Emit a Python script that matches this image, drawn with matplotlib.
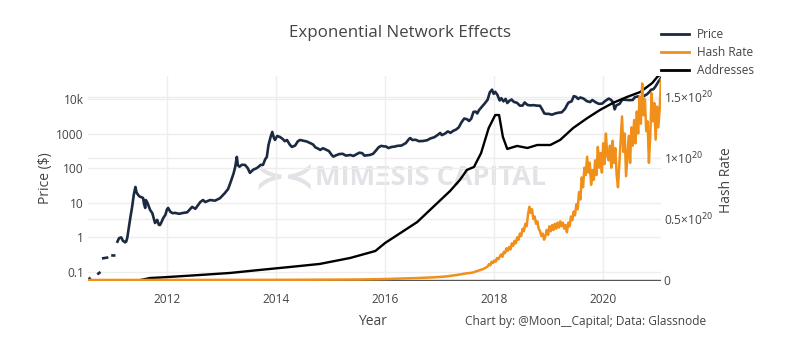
import numpy as np
import matplotlib
matplotlib.use('Agg')
import matplotlib.pyplot as plt
import matplotlib.transforms as mtransforms
from matplotlib.ticker import NullLocator
from matplotlib.lines import Line2D

plt.rcParams['font.family'] = ['Open Sans', 'DejaVu Sans']

# --- data ---
nan = np.nan
price_year = [2010.56, 2010.58, nan, 2010.74, 2010.76, nan, 2010.83, 2010.90, nan, 2011.00, 2011.03, nan,
              2011.09, 2011.12, 2011.16, 2011.19, 2011.23, 2011.25, 2011.27, 2011.30, 2011.33, 2011.36,
              2011.39, 2011.42, 2011.44, 2011.47, 2011.50, 2011.53, 2011.56, 2011.58, 2011.60, 2011.61,
              2011.64, 2011.69, 2011.73, 2011.78, 2011.82, 2011.85, 2011.87, 2011.90, 2011.93, 2011.97,
              2012.00, 2012.02, 2012.06, 2012.10, 2012.15, 2012.22, 2012.30, 2012.37, 2012.46, 2012.52,
              2012.61, 2012.66, 2012.70, 2012.79, 2012.88, 2012.97, 2013.06, 2013.12, 2013.16, 2013.22,
              2013.25, 2013.28, 2013.30, 2013.33, 2013.37, 2013.43, 2013.48, 2013.52, 2013.58, 2013.65,
              2013.72, 2013.76, 2013.80, 2013.83, 2013.86, 2013.90, 2013.93, 2013.96, 2013.98, 2014.02,
              2014.07, 2014.12, 2014.16, 2014.20, 2014.25, 2014.29, 2014.35, 2014.40, 2014.44, 2014.50,
              2014.56, 2014.62, 2014.68, 2014.72, 2014.78, 2014.81, 2014.86, 2014.92, 2014.97, 2015.02,
              2015.05, 2015.10, 2015.16, 2015.22, 2015.28, 2015.36, 2015.42, 2015.47, 2015.53, 2015.58,
              2015.62, 2015.67, 2015.72, 2015.78, 2015.83, 2015.88, 2015.93, 2015.96, 2016.02, 2016.06,
              2016.12, 2016.18, 2016.22, 2016.30, 2016.38, 2016.44, 2016.46, 2016.50, 2016.56, 2016.62,
              2016.70, 2016.77, 2016.83, 2016.90, 2016.96, 2017.01, 2017.04, 2017.10, 2017.15, 2017.20,
              2017.25, 2017.30, 2017.35, 2017.40, 2017.45, 2017.50, 2017.54, 2017.58, 2017.62, 2017.66,
              2017.69, 2017.72, 2017.77, 2017.83, 2017.88, 2017.92, 2017.96, 2017.99, 2018.02, 2018.06,
              2018.10, 2018.13, 2018.17, 2018.21, 2018.24, 2018.28, 2018.32, 2018.36, 2018.42, 2018.47,
              2018.52, 2018.56, 2018.61, 2018.66, 2018.72, 2018.78, 2018.84, 2018.88, 2018.92, 2018.96,
              2019.00, 2019.06, 2019.12, 2019.18, 2019.24, 2019.30, 2019.36, 2019.42, 2019.46, 2019.50,
              2019.54, 2019.58, 2019.64, 2019.70, 2019.76, 2019.80, 2019.86, 2019.92, 2019.98, 2020.04,
              2020.10, 2020.14, 2020.18, 2020.21, 2020.24, 2020.30, 2020.35, 2020.42, 2020.48, 2020.54,
              2020.58, 2020.64, 2020.70, 2020.76, 2020.80, 2020.84, 2020.88, 2020.92, 2020.96, 2021.00,
              2021.02, 2021.04, 2021.06]
price_usd = [0.06, 0.065, nan, 0.09, 0.095, nan, 0.25, 0.26, nan, 0.30, 0.30, nan,
             0.75, 0.95, 1.0, 0.8, 0.72, 0.75, 0.96, 2.0, 4.0, 7.6,
             17, 28.6, 20, 16.8, 15, 14.5, 13.8, 9, 7.1, 12,
             10, 6.2, 5, 2.6, 3.2, 2.3, 2.28, 2.8, 3.6, 4.5,
             6.5, 7.1, 5.5, 5.0, 5.1, 4.8, 5.1, 5.3, 7.6, 6.7,
             10.5, 12, 10.5, 12, 11.5, 13.5, 19, 25, 37, 70,
             108, 211, 120, 110, 125, 124, 100, 73, 90, 101,
             125, 124, 180, 210, 460, 800, 1112, 750, 653, 850,
             795, 700, 600, 650, 480, 410, 450, 600, 650, 620,
             590, 535, 480, 400, 360, 336, 375, 340, 310, 240,
             215, 235, 255, 260, 230, 240, 225, 250, 280, 270,
             230, 235, 240, 260, 320, 400, 440, 430, 420, 380,
             410, 420, 440, 450, 530, 700, 740, 650, 660, 600,
             610, 640, 720, 780, 900, 1040, 900, 1000, 1150, 1050,
             1200, 1300, 1500, 2100, 2700, 2600, 2300, 2700, 4200, 4300,
             3800, 4700, 5800, 7500, 9500, 15500, 18500, 14000, 16000, 13000,
             9000, 10500, 8500, 10000, 7600, 8800, 9600, 8200, 7700, 6400,
             6400, 7900, 6700, 6500, 6600, 6400, 6350, 5000, 3800, 3700,
             3700, 3500, 3800, 4000, 4100, 5200, 7800, 8500, 12000, 11500,
             10000, 11000, 10200, 8600, 8100, 9300, 8000, 7200, 7300, 8800,
             10200, 9500, 8000, 5000, 6500, 7200, 9500, 9400, 9200, 9300,
             11200, 11800, 10600, 12500, 13500, 15500, 18500, 19000, 23000, 29000,
             33000, 36000, 40000]

addr_year = [2010.55, 2011.50, 2011.69, 2011.87, 2012.60, 2013.16, 2013.70, 2014.26, 2014.80, 2015.36,
             2015.82, 2016.00, 2016.28, 2016.59, 2016.88, 2017.19, 2017.37, 2017.50, 2017.63, 2017.76,
             2017.90, 2018.02, 2018.09, 2018.16, 2018.24, 2018.42, 2018.61, 2018.79, 2019.03, 2019.21,
             2019.45, 2019.71, 2019.94, 2020.18, 2020.44, 2020.68, 2020.90, 2020.99, 2021.06]
addresses = [0, 5e3, 19e3, 22e3, 38e3, 51e3, 70e3, 89e3, 108e3, 146e3,
             190e3, 241e3, 304e3, 374e3, 469e3, 570e3, 640e3, 704e3, 723e3, 811e3,
             970e3, 1052e3, 1052e3, 913e3, 837e3, 856e3, 843e3, 862e3, 862e3, 894e3,
             970e3, 1033e3, 1084e3, 1129e3, 1167e3, 1198e3, 1255e3, 1293e3, 1312e3]

# hash rate in units of 1e20 H/s
hash_early_year = [2010.55, 2012.0, 2013.0, 2014.0, 2014.5, 2015.0, 2015.5, 2016.0, 2016.3, 2016.6,
                   2016.9, 2017.1, 2017.3, 2017.5, 2017.6, 2017.7, 2017.8]
hash_early = [0.0, 0.0001, 0.0002, 0.001, 0.002, 0.003, 0.004, 0.008, 0.012, 0.016,
              0.022, 0.028, 0.04, 0.055, 0.06, 0.075, 0.09]
hash_late = [0.11, 0.13, 0.12, 0.15, 0.14, 0.16, 0.15, 0.18, 0.17, 0.19,
             0.21, 0.19, 0.23, 0.22, 0.26, 0.24, 0.27, 0.25, 0.30, 0.28,
             0.32, 0.30, 0.35, 0.33, 0.38, 0.36, 0.42, 0.40, 0.46, 0.44,
             0.53, 0.60, 0.55, 0.58, 0.50, 0.52, 0.46, 0.48, 0.42, 0.40,
             0.36, 0.38, 0.33, 0.36, 0.41, 0.37, 0.44, 0.40, 0.45, 0.41,
             0.46, 0.42, 0.47, 0.43, 0.48, 0.44, 0.47, 0.42, 0.45, 0.39,
             0.47, 0.44, 0.52, 0.49, 0.56, 0.53, 0.62, 0.58, 0.72, 0.66,
             0.84, 0.76, 0.92, 0.86, 1.01, 0.88, 0.96, 0.78, 0.90, 0.82,
             0.98, 0.86, 1.09, 0.92, 1.04, 0.88, 1.12, 0.95, 1.20, 1.02,
             0.98, 1.10, 0.92, 1.14, 0.96, 1.08, 0.86, 0.76, 0.95, 1.15,
             1.34, 1.05, 1.20, 0.85, 1.02, 1.18, 0.96, 1.25, 1.10, 1.31,
             1.12, 1.38, 1.20, 1.50, 1.28, 1.61, 1.35, 1.48, 1.22, 1.30,
             0.96, 1.18, 1.53, 1.30, 1.45, 1.15, 1.42, 1.25, 1.40, 1.64]
hash_late_year = np.linspace(2017.88, 2021.06, len(hash_late))
hash_year = np.concatenate([hash_early_year, hash_late_year])
hash_rate = np.concatenate([hash_early, hash_late])

year_ticks = [2012, 2014, 2016, 2018, 2020]
price_ticks = [0.1, 1, 10, 100, 1000, 10000]
price_labels = ['0.1', '1', '10', '100', '1000', '10k']
hash_ticks = [0, 0.5, 1.0, 1.5]
hash_labels = ['0', '0.5×10$^{20}$', '1×10$^{20}$', '1.5×10$^{20}$']

c_price = '#1b2a41'
c_hash = '#f0901a'
c_addr = '#000000'
txt = '#444444'
grid_c = '#eeeeee'

fig = plt.figure(figsize=(8.02, 3.53), dpi=100)
ax = fig.add_axes([0.1097, 0.204, 0.7145, 0.581])
ax3 = ax.twinx()   # addresses (hidden axis)
ax2 = ax.twinx()   # hash rate
for a in (ax, ax2, ax3):
    a.patch.set_visible(False)
    for s in a.spines.values():
        s.set_visible(False)

# watermark
fig.text(0.355, 0.497, '≻≺', fontsize=26, fontweight='bold', color='#e2e2e7',
         ha='center', va='center', zorder=-5, family=['DejaVu Sans'])
fig.text(0.537, 0.497, 'MIMΞSIS CAPITAL', fontsize=19.5, fontweight='bold', color='#e2e2e7',
         ha='center', va='center', zorder=-5)

# price axis
ax.set_yscale('log')
ax.set_xlim(2010.55, 2021.06)
ax.set_ylim(0.055, 46200)
ax.set_yticks(price_ticks)
ax.set_yticklabels(price_labels)
ax.yaxis.set_minor_locator(NullLocator())
ax.set_xticks(year_ticks)
ax.set_xticklabels([str(y) for y in year_ticks])
ax.tick_params(axis='both', length=0, labelsize=8.6, labelcolor=txt)
ax.tick_params(axis='y', pad=3)
ax.tick_params(axis='x', pad=9)
ax.grid(True, color=grid_c, lw=1)
ax.set_axisbelow(True)

# hash-rate grid drawn on base axes so it stays under the lines
bt = mtransforms.blended_transform_factory(ax.transAxes, ax2.transData)
for v in hash_ticks[1:]:
    ax.plot([0, 1], [v, v], transform=bt, color=grid_c, lw=1, zorder=0.5)

ax.plot(price_year, price_usd, color=c_price, lw=1.9, zorder=2)

ax3.set_ylim(0, 1.3e6)
ax3.set_yticks([])
ax3.plot(addr_year, addresses, color=c_addr, lw=1.7)

ax2.set_ylim(-0.0082, 1.672)
ax2.set_yticks(hash_ticks)
ax2.set_yticklabels(hash_labels)
ax2.tick_params(axis='y', length=0, labelsize=8.6, labelcolor=txt, pad=2)
ax2.axhline(0, color='#555555', lw=1, zorder=1)
ax2.plot(hash_year, hash_rate, color=c_hash, lw=1.8)

# texts
fig.text(0.4988, 0.906, 'Exponential Network Effects', fontsize=12.2, color=txt, ha='center', va='center')
fig.text(0.465, 0.088, 'Year', fontsize=10, color=txt, ha='center', va='center')
fig.text(0.057, 0.496, 'Price ($)', fontsize=10, color=txt, ha='center', va='center', rotation=90)
fig.text(0.906, 0.49, 'Hash Rate', fontsize=10, color=txt, ha='center', va='center', rotation=90)
fig.text(0.58, 0.088, 'Chart by: @Moon__Capital; Data: Glassnode', fontsize=8.6, color=txt,
         ha='left', va='center')

handles = [Line2D([], [], color=c_price, lw=2),
           Line2D([], [], color=c_hash, lw=2),
           Line2D([], [], color=c_addr, lw=2)]
fig.legend(handles, ['Price', 'Hash Rate', 'Addresses'], loc='upper left',
           bbox_to_anchor=(0.818, 0.935), frameon=False, fontsize=8.6, labelcolor=txt,
           handlelength=2.4, handletextpad=0.6, labelspacing=0.45, borderaxespad=0)

fig.savefig('out.png', dpi=100)
